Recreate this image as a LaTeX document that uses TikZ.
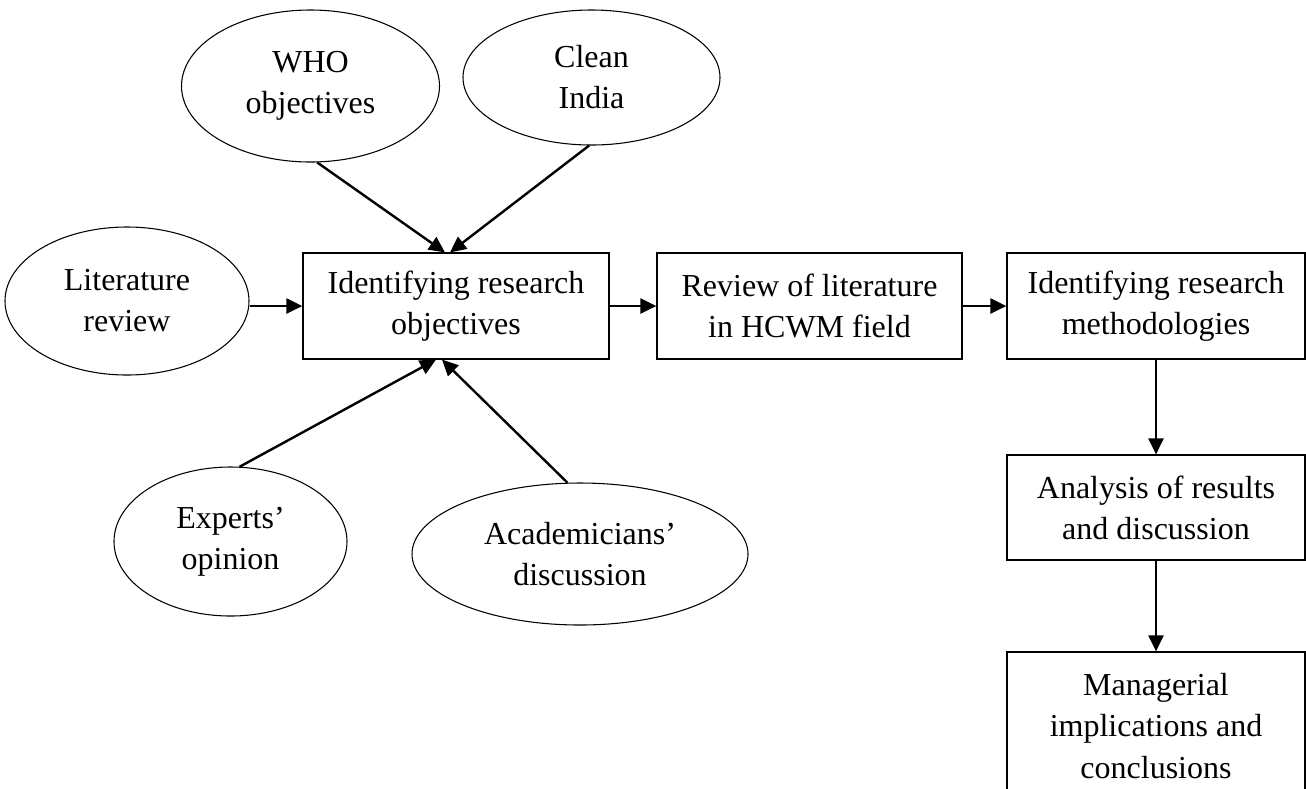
\documentclass[tikz,border=0pt]{standalone}
\usepackage{fontspec}
\setmainfont{Liberation Serif}
\usetikzlibrary{shapes.geometric,arrows.meta,calc}
\newdimen\unitpx
\unitpx=0.375pt
\tikzset{
  txt/.style={font=\fontsize{12}{15.4}\selectfont, align=center},
  oval/.style={ellipse, draw, line width=0.4pt, inner sep=0pt, txt},
  stepbox/.style={rectangle, draw, line width=0.45pt, inner sep=0pt, txt},
  link/.style={line width=0.9pt, -{Triangle[length=6pt,width=5.6pt]}}
}
\begin{document}
\begin{tikzpicture}[x=0.375pt, y=-0.375pt]
\useasboundingbox (0,0) rectangle (1306,788);
\clip (0,0) rectangle (1306,788);

% sources feeding the objectives
\node[oval, minimum width=258\unitpx, minimum height=152\unitpx] (who) at (310.5,86) {WHO\\objectives};
\node[oval, minimum width=257\unitpx, minimum height=135\unitpx] (clean) at (591.5,77.5) {Clean\\India};
\node[oval, minimum width=244\unitpx, minimum height=148\unitpx] (lit) at (127,301) {Literature\\review};
\node[oval, minimum width=233\unitpx, minimum height=149\unitpx] (exp) at (230.5,541.5) {Experts’\\opinion};
\node[oval, minimum width=336\unitpx, minimum height=142\unitpx] (acad) at (580,554) {Academicians’\\discussion};

% main process steps
\node[stepbox, minimum width=306\unitpx, minimum height=106\unitpx] (obj) at (456,306) {Identifying research\\objectives};
\node[stepbox, minimum width=305\unitpx, minimum height=106\unitpx] (rev) at (809.5,306) {Review of literature\\in HCWM field};
\node[stepbox, minimum width=298\unitpx, minimum height=106\unitpx] (meth) at (1156,306) {Identifying research\\methodologies};
\node[stepbox, minimum width=298\unitpx, minimum height=105\unitpx] (anal) at (1156,507.5) {Analysis of results\\and discussion};
\node[stepbox, minimum width=298\unitpx, minimum height=148\unitpx] (mgr) at (1156,726) {Managerial\\implications and\\conclusions};

% connectors
\draw[link] (who.-85) -- ($(obj.north)+(-11,0)$);
\draw[link] (clean.-92) -- ($(obj.north)+(-6,0)$);
\draw[link] (exp.83) -- ($(obj.south)+(-20,0)$);
\draw[link] (acad.100) -- ($(obj.south)+(-14,0)$);
\draw[link] (lit.east |- obj.west) -- (obj.west);
\draw[link] (obj.east) -- (rev.west);
\draw[link] (rev.east) -- (meth.west);
\draw[link] (meth.south) -- (anal.north);
\draw[link] (anal.south) -- (mgr.north);
\end{tikzpicture}
\end{document}
